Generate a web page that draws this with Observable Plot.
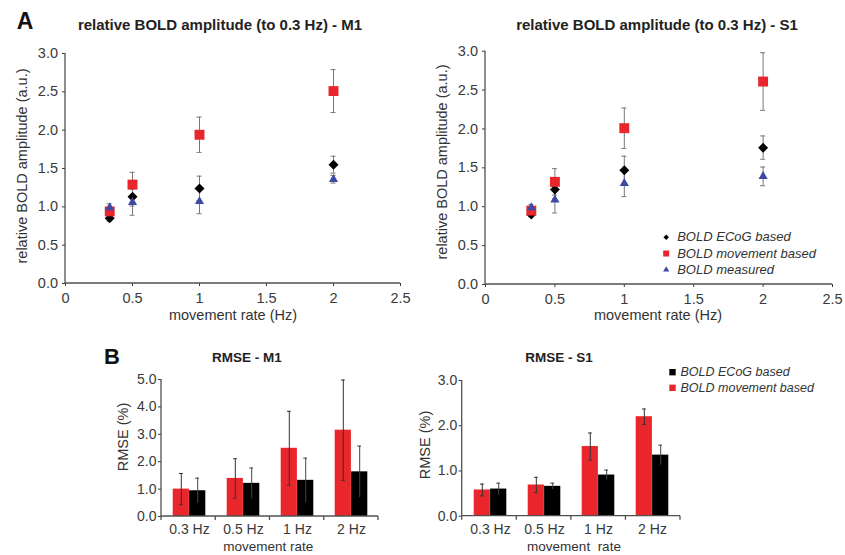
<!DOCTYPE html>
<html>
<head>
<meta charset="utf-8">
<script src="https://cdn.jsdelivr.net/npm/d3@7"></script>
<script src="https://cdn.jsdelivr.net/npm/@observablehq/plot@0.6"></script>
<style>
  html, body { margin: 0; padding: 0; background: #fff; }
  #root { position: relative; width: 845px; height: 555px; overflow: hidden; background: #fff;
          font-family: 'Liberation Sans', Arial, Helvetica, sans-serif; }
  .lbl { position: absolute; white-space: pre; line-height: 1; transform-origin: 50% 50%; }
</style>
</head>
<body>
<div id="root"></div>
<script>
// ---------------- data ----------------
const rates = [0.33, 0.5, 1, 2];
const xTicks = [0, 0.5, 1, 1.5, 2, 2.5];
const yTicksA = [0, 0.5, 1, 1.5, 2, 2.5, 3];
const seriesNames = ["BOLD ECoG based", "BOLD movement based", "BOLD measured"];

const m1Ecog        = [0.85, 1.13, 1.24, 1.55];
const m1EcogErr     = [0.04, 0.12, 0.16, 0.11];
const m1Movement    = [0.94, 1.29, 1.94, 2.51];
const m1MovementErr = [0.05, 0.16, 0.23, 0.28];
const m1Measured    = [0.99, 1.06, 1.07, 1.36];
const m1MeasuredErr = [0.05, 0.17, 0.16, 0.05];

const s1Ecog        = [0.90, 1.22, 1.47, 1.76];
const s1EcogErr     = [0.03, 0.12, 0.18, 0.15];
const s1Movement    = [0.95, 1.32, 2.01, 2.61];
const s1MovementErr = [0.04, 0.17, 0.26, 0.37];
const s1Measured    = [0.99, 1.09, 1.30, 1.39];
const s1MeasuredErr = [0.04, 0.17, 0.17, 0.12];

const rateLabels = ["0.3 Hz", "0.5 Hz", "1 Hz", "2 Hz"];
const barSeries = ["BOLD ECoG based", "BOLD movement based"];
const yTicksM1 = [0, 1, 2, 3, 4, 5];
const yTicksS1 = [0, 1, 2, 3];

const rmseM1Movement    = [1.00, 1.39, 2.49, 3.15];
const rmseM1MovementErr = [0.57, 0.72, 1.35, 1.83];
const rmseM1Ecog        = [0.94, 1.21, 1.32, 1.63];
const rmseM1EcogErr     = [0.46, 0.56, 0.81, 0.94];

const rmseS1Movement    = [0.58, 0.69, 1.54, 2.20];
const rmseS1MovementErr = [0.13, 0.17, 0.30, 0.17];
const rmseS1Ecog        = [0.60, 0.66, 0.91, 1.35];
const rmseS1EcogErr     = [0.13, 0.07, 0.11, 0.22];

// ---------------- styles ----------------
const FONT = "'Liberation Sans', Arial, Helvetica, sans-serif";
const RED = "#e8262b", BLUE = "#3c4aa6", BLACK = "#000000";
const AXIS = "#505050", TEXT = "#333333";
const root = document.getElementById("root");

function place(node, left, top) {
  node.style.position = "absolute";
  node.style.left = left + "px";
  node.style.top = top + "px";
  root.appendChild(node);
}

function label(text, x, y, o = {}) {
  const d = document.createElement("div");
  d.className = "lbl";
  d.textContent = text;
  d.style.left = x + "px";
  d.style.top = y + "px";
  d.style.fontSize = (o.size || 14.5) + "px";
  d.style.fontWeight = o.weight || "normal";
  d.style.color = o.color || TEXT;
  d.style.transform = "translate(-50%,-50%)" + (o.rotate ? ` rotate(${o.rotate}deg)` : "");
  root.appendChild(d);
}

// axis lines (left + bottom) and optional band boundary ticks, from plot dimensions
function frameLines(n) {
  return (index, scales, values, dims) => {
    const {width, height, marginLeft: ml, marginRight: mr, marginTop: mt, marginBottom: mb} = dims;
    const x0 = ml, x1 = width - mr, y0 = height - mb;
    const g = d3.create("svg:g").attr("stroke", AXIS).attr("stroke-width", 1.3).attr("fill", "none");
    g.append("line").attr("x1", x0).attr("x2", x0).attr("y1", mt).attr("y2", y0);
    g.append("line").attr("x1", x0).attr("x2", x1).attr("y1", y0).attr("y2", y0);
    if (n) {
      for (let i = 0; i <= n; i++) {
        const xx = x0 + i * (x1 - x0) / n;
        g.append("line").attr("x1", xx).attr("x2", xx).attr("y1", y0).attr("y2", y0 + 4);
      }
    }
    return g.node();
  };
}

function scatterPanel(cfg) {
  const groups = [
    {vals: cfg.ecog, errs: cfg.ecogErr, symbol: "diamond2", r: 4.5, fill: BLACK},
    {vals: cfg.mov,  errs: cfg.movErr,  symbol: "square",   r: 5.6, fill: RED},
    {vals: cfg.meas, errs: cfg.measErr, symbol: "triangle", r: 3.4, fill: BLUE}
  ];
  const rows = groups.map(g => rates.map((x, i) => ({x, v: g.vals[i], e: g.errs[i]})));
  const marks = [];
  for (const r of rows) {
    marks.push(Plot.ruleX(r, {x: "x", y1: d => d.v - d.e, y2: d => d.v + d.e, stroke: "#777", strokeWidth: 1}));
    marks.push(Plot.ruleY(r, {x1: "x", x2: "x", y: d => d.v + d.e, insetLeft: -2.5, insetRight: -2.5, stroke: "#777"}));
    marks.push(Plot.ruleY(r, {x1: "x", x2: "x", y: d => d.v - d.e, insetLeft: -2.5, insetRight: -2.5, stroke: "#777"}));
  }
  groups.forEach((g, k) => marks.push(Plot.dot(rows[k], {x: "x", y: "v", symbol: g.symbol, r: g.r, fill: g.fill})));
  marks.push(frameLines(0));
  if (cfg.legend) {
    const L = cfg.legend;
    const sym = [
      {symbol: "diamond2", r: 2.5, fill: BLACK},
      {symbol: "square", r: 3.4, fill: RED},
      {symbol: "triangle", r: 2.3, fill: BLUE}
    ];
    seriesNames.forEach((name, i) => {
      const dy = L.dy + i * L.step;
      marks.push(Plot.dot([name], {x: null, y: null, frameAnchor: "top-left", dx: L.dx, dy, symbol: sym[i].symbol, r: sym[i].r, fill: sym[i].fill}));
      marks.push(Plot.text([name], {x: null, y: null, text: d => d, frameAnchor: "top-left", dx: L.dx + 11, dy,
        textAnchor: "start", lineAnchor: "middle", fontStyle: "italic", fontSize: 13, fill: TEXT}));
    });
  }
  const svg = Plot.plot({
    width: cfg.width, height: cfg.height,
    marginLeft: cfg.ml, marginRight: cfg.mr, marginTop: cfg.mt, marginBottom: cfg.mb,
    style: {fontFamily: FONT, fontSize: "14.5px", color: "#3a3a3a", background: "transparent", overflow: "visible"},
    x: {domain: [0, 2.5], ticks: xTicks, tickFormat: d => String(d), tickSize: 3, tickPadding: 6.5, label: null},
    y: {domain: [0, 3], ticks: yTicksA, tickFormat: d3.format(".1f"), tickSize: 3, tickPadding: 4.5, label: null},
    marks
  });
  place(svg, cfg.left, cfg.top);
}

function barPanel(cfg) {
  const mov = rateLabels.map((c, i) => ({c, v: cfg.mov[i], e: cfg.movErr[i]}));
  const eco = rateLabels.map((c, i) => ({c, v: cfg.ecog[i], e: cfg.ecogErr[i]}));
  const marks = [
    Plot.barY(mov, {x: "c", y: "v", fill: RED, insetLeft: 10.7, insetRight: 27.1}),
    Plot.barY(eco, {x: "c", y: "v", fill: BLACK, insetLeft: 27.1, insetRight: 10.7}),
    Plot.ruleX(mov, {x: "c", y1: d => d.v - d.e, y2: d => d.v + d.e, dx: -8.2, stroke: "#333", strokeWidth: 1}),
    Plot.tickY(mov, {x: "c", y: d => d.v + d.e, insetLeft: 17, insetRight: 33.2, stroke: "#333"}),
    Plot.tickY(mov, {x: "c", y: d => d.v - d.e, insetLeft: 17, insetRight: 33.2, stroke: "#333"}),
    Plot.ruleX(eco, {x: "c", y1: d => d.v - d.e, y2: d => d.v + d.e, dx: 8.2, stroke: "#444", strokeWidth: 1}),
    Plot.tickY(eco, {x: "c", y: d => d.v + d.e, insetLeft: 33.2, insetRight: 17, stroke: "#444"}),
    frameLines(4)
  ];
  if (cfg.legend) {
    const L = cfg.legend;
    const fills = [BLACK, RED];
    barSeries.forEach((name, i) => {
      const dy = L.dy + i * L.step;
      marks.push(Plot.dot([name], {x: null, y: null, frameAnchor: "top-left", dx: L.dx, dy, symbol: "square", r: 3.6, fill: fills[i]}));
      marks.push(Plot.text([name], {x: null, y: null, text: d => d, frameAnchor: "top-left", dx: L.dx + 8, dy,
        textAnchor: "start", lineAnchor: "middle", fontStyle: "italic", fontSize: 12.5, fill: TEXT}));
    });
  }
  const svg = Plot.plot({
    width: cfg.width, height: cfg.height,
    marginLeft: cfg.ml, marginRight: cfg.mr, marginTop: cfg.mt, marginBottom: cfg.mb,
    style: {fontFamily: FONT, fontSize: "14px", color: "#3a3a3a", background: "transparent", overflow: "visible"},
    x: {domain: rateLabels, padding: 0, tickSize: 0, tickPadding: 8, label: null},
    y: {domain: [0, cfg.ymax], ticks: cfg.yTicks, tickFormat: d3.format(".1f"), tickSize: 3, tickPadding: 2, label: null},
    marks
  });
  place(svg, cfg.left, cfg.top);
}

// ---------------- panels ----------------
scatterPanel({left: 0, top: 0, width: 420, height: 330, ml: 65, mr: 20, mt: 53, mb: 47,
  ecog: m1Ecog, ecogErr: m1EcogErr, mov: m1Movement, movErr: m1MovementErr, meas: m1Measured, measErr: m1MeasuredErr});

scatterPanel({left: 420, top: 0, width: 425, height: 330, ml: 65, mr: 13, mt: 50.7, mb: 46,
  ecog: s1Ecog, ecogErr: s1EcogErr, mov: s1Movement, movErr: s1MovementErr, meas: s1Measured, measErr: s1MeasuredErr,
  legend: {dx: 180.7, dy: 186, step: 16.3}});

barPanel({left: 100, top: 340, width: 320, height: 215, ml: 61, mr: 42, mt: 39, mb: 39,
  ymax: 5, yTicks: yTicksM1,
  mov: rmseM1Movement, movErr: rmseM1MovementErr, ecog: rmseM1Ecog, ecogErr: rmseM1EcogErr});

barPanel({left: 420, top: 340, width: 425, height: 215, ml: 41.7, mr: 165, mt: 40, mb: 39.3,
  ymax: 3, yTicks: yTicksS1,
  mov: rmseS1Movement, movErr: rmseS1MovementErr, ecog: rmseS1Ecog, ecogErr: rmseS1EcogErr,
  legend: {dx: 210.3, dy: -8.3, step: 15.6}});

// ---------------- titles & axis labels ----------------
label("A", 25, 21, {size: 23, weight: "bold", color: "#111"});
label("relative BOLD amplitude (to 0.3 Hz) - M1", 220, 24, {size: 15, weight: "bold", color: "#222"});
label("relative BOLD amplitude (to 0.3 Hz) - S1", 657, 24, {size: 15, weight: "bold", color: "#222"});
label("relative BOLD amplitude (a.u.)", 21.7, 166, {rotate: -90});
label("relative BOLD amplitude (a.u.)", 441.7, 162, {rotate: -90});
label("movement rate (Hz)", 233, 314.5);
label("movement rate (Hz)", 658, 315);

label("B", 112, 356.5, {size: 22, weight: "bold", color: "#111"});
label("RMSE - M1", 247, 357.5, {size: 13.5, weight: "bold", color: "#222"});
label("RMSE - S1", 559, 357.5, {size: 13.5, weight: "bold", color: "#222"});
label("RMSE (%)", 123, 437, {rotate: -90});
label("RMSE (%)", 425, 445, {rotate: -90});
label("movement rate", 268.3, 547, {size: 13.5});
label("movement  rate", 574, 547, {size: 13.5});
</script>
</body>
</html>
